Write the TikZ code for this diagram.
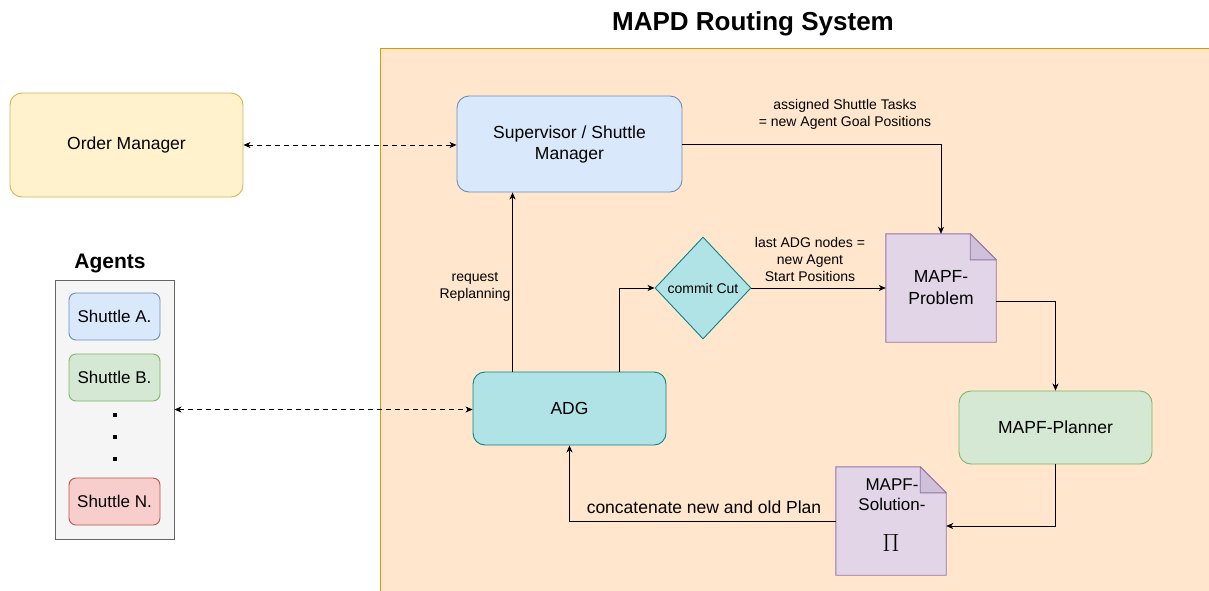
\documentclass[tikz,border=0pt]{standalone}
\usepackage{fontspec}
\setmainfont{Liberation Sans}
\usetikzlibrary{shapes.geometric,arrows.meta}
\definecolor{bgfill}{HTML}{FFE6CC}\definecolor{bgline}{HTML}{D79B00}
\definecolor{yfill}{HTML}{FFF2CC}\definecolor{yline}{HTML}{D6B656}
\definecolor{bfill}{HTML}{DAE8FC}\definecolor{bline}{HTML}{6C8EBF}
\definecolor{gfill}{HTML}{D5E8D4}\definecolor{gline}{HTML}{82B366}
\definecolor{rfill}{HTML}{F8CECC}\definecolor{rline}{HTML}{B85450}
\definecolor{grfill}{HTML}{F5F5F5}\definecolor{grline}{HTML}{666666}
\definecolor{tfill}{HTML}{B0E3E6}\definecolor{tline}{HTML}{0E8088}
\definecolor{pfill}{HTML}{E1D5E7}\definecolor{pline}{HTML}{9673A6}
\definecolor{pfold}{HTML}{CFC1DA}
\pgfdeclarelayer{bg}
\pgfdeclarelayer{docs}
\pgfsetlayers{bg,docs,main}
\newcommand{\fs}[2]{\fontsize{#1}{#2}\selectfont}
\tikzset{
  box/.style={draw, rounded corners=12pt, line width=0.9pt, align=center, font=\fs{17.5}{21}},
  sbox/.style={draw, rounded corners=7pt, line width=0.9pt, minimum width=91pt, minimum height=47pt, font=\fs{17}{20}},
  lbl/.style={align=center, font=\fs{14}{16.8}, inner sep=0pt},
  arr/.style={line width=0.9pt, -{Stealth[length=7pt,width=6pt,inset=2pt]}},
  darr/.style={line width=0.9pt, dash pattern=on 5pt off 4pt, {Stealth[length=7pt,width=6pt,inset=2pt]}-{Stealth[length=7pt,width=6pt,inset=2pt]}},
  docframe/.style={minimum width=110pt, minimum height=108pt, inner sep=0pt},
  docshape/.style={fill=pfill, draw=pline, line width=0.9pt},
  foldshape/.style={fill=pfold, draw=pline, line width=0.9pt, line join=round},
}
\begin{document}
\begin{tikzpicture}[x=1pt,y=-1pt]
\useasboundingbox (0,0) rectangle (1209,590);
\clip (0,0) rectangle (1209,590);
\begin{pgfonlayer}{bg}
\fill[white] (0,0) rectangle (1209,590);
% system background
\draw[fill=bgfill, draw=bgline, line width=0.9pt] (380,48) rectangle (1215,600);
\end{pgfonlayer}
\node[font=\fs{26}{30}\bfseries] (title) at (753,24) {MAPD Routing System};

% nodes
\node[box, fill=yfill, draw=yline, minimum width=233pt, minimum height=104pt] (om) at (126.5,145) {Order Manager};
\node[box, fill=bfill, draw=bline, minimum width=225pt, minimum height=96pt] (sup) at (569.5,144) {Supervisor / Shuttle\\Manager};

\node[font=\fs{21}{25}\bfseries] (agtitle) at (110,263) {Agents};
\node[draw=grline, fill=grfill, line width=0.9pt, minimum width=119pt, minimum height=259pt] (agents) at (114.5,409.5) {};
\node[sbox, fill=bfill, draw=bline] (sa) at (114.5,316.5) {Shuttle A.};
\node[sbox, fill=gfill, draw=gline] (sb) at (114.5,377.5) {Shuttle B.};
\node[sbox, fill=rfill, draw=rline] (sn) at (114.5,501.5) {Shuttle N.};
\foreach \yy/\nm in {415/d1,437/d2,459/d3}
  \node[fill=black, minimum size=4pt, inner sep=0pt] (\nm) at (115,\yy) {};

\node[box, fill=tfill, draw=tline, minimum width=193pt, minimum height=73pt] (adg) at (569.5,408.5) {ADG};
\node[diamond, aspect=0.94, fill=tfill, draw=tline, line width=0.9pt, minimum width=96pt, minimum height=102pt, inner sep=0pt, font=\fs{14}{16}] (cut) at (703,288) {commit Cut};

\node[docframe, align=center, font=\fs{17.5}{22}] (prob) at (941,288) {MAPF-\\Problem};
\node[box, fill=gfill, draw=gline, minimum width=193pt, minimum height=73pt] (plan) at (1055.5,427.5) {MAPF-Planner};
\node[docframe] (sol) at (891,521) {};
\node[align=center, font=\fs{17}{20}, inner sep=0pt] (soltext) at (892,495) {MAPF-\\Solution-};
\node[font=\fs{24}{24}, inner sep=0pt] (pi) at (891,543) {$\Pi$};

\begin{pgfonlayer}{docs}
  \foreach \d in {prob,sol}{
    \path[docshape] (\d.north west) -- ([xshift=-26pt]\d.north east) -- ([yshift=-26pt]\d.north east) -- (\d.south east) -- (\d.south west) -- cycle;
    \path[foldshape] ([xshift=-26pt]\d.north east) -- ([yshift=-26pt]\d.north east) -- ([xshift=-26pt,yshift=-26pt]\d.north east) -- cycle;
  }
\end{pgfonlayer}

% connectors
\draw[darr] (om.east) -- (om.east -| sup.west);
\draw[darr] (agents.east) -- (agents.east -| adg.west);
\draw[arr] ([xshift=40pt]adg.north west) -- ([xshift=40pt]adg.north west |- sup.south);
\node[lbl] (req) at (475,287) {request\\Replanning};
\draw[arr] ([xshift=-47pt]adg.north east) |- (cut.west);
\draw[arr] (cut.east) -- (cut.east -| prob.west);
\node[lbl] (lastlbl) at (810,259.5) {last ADG nodes =\\new Agent\\Start Positions};
\draw[arr] (sup.east) -| (prob.north);
\node[lbl] (asslbl) at (845,114.5) {assigned Shuttle Tasks\\= new Agent Goal Positions};
\draw[arr] ([yshift=-13pt]prob.east) -| (plan.north);
\draw[arr] (plan.south) |- ([yshift=-5pt]sol.east);
\draw[arr] (sol.west) -| (adg.south);
\node[font=\fs{17.5}{20}, inner sep=0pt] (conc) at (704,507) {concatenate new and old Plan};
\end{tikzpicture}
\end{document}
